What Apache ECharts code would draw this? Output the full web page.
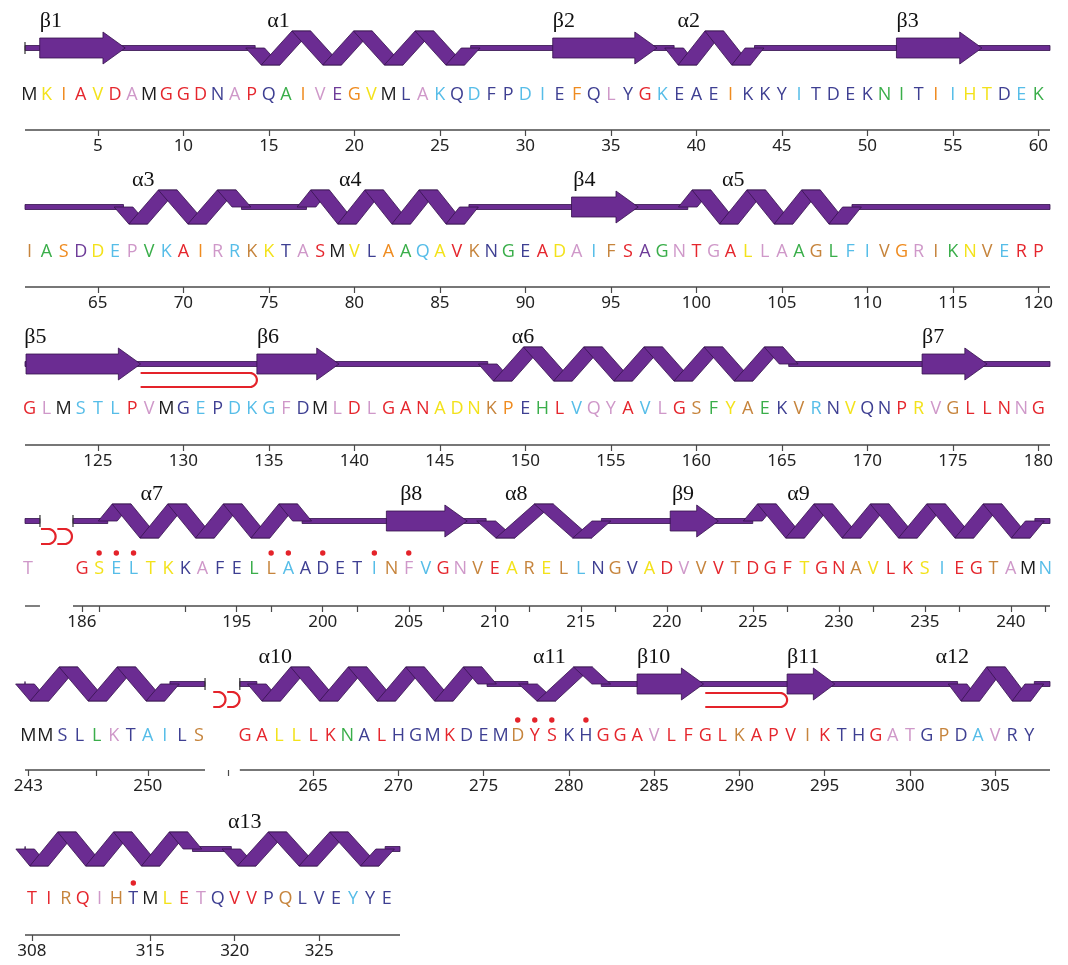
<!DOCTYPE html>
<html lang="en">
<head>
<meta charset="UTF-8">
<title>Secondary structure</title>
<script src="https://cdn.jsdelivr.net/npm/echarts@6/dist/echarts.min.js"></script>
<style>html,body{margin:0;background:#fff}#main{width:1068px;height:965px}</style>
</head>
<body>
<div id="main"></div>
<script>
// residues 1-329, '-' = not in the model (182-185, 254-260)
var sequence =
    'MKIAVDAMGGDNAPQAIVEGVMLAKQDFPDIEFQLYGKEAEIKKYITDEKNITIIHTDEK' +
    'IASDDEPVKAIRRKKTASMVLAAQAVKNGEADAIFSAGNTGALLAAGLFIVGRIKNVERP' +
    'GLMSTLPVMGEPDKGFDMLDLGANADNKPEHLVQYAVLGSFYAEKVRNVQNPRVGLLNNG' +
    'T----GSELTKKAFELLAADETINFVGNVEARELLNGVADVVVTDGFTGNAVLKSIEGTAMN' +
    'MMSLLKTAILS-------GALLLKNALHGMKDEMDYSKHGGAVLFGLKAPVIKTHGATGPDAVRY' +
    'TIRQIHTMLETQVVPQLVEYYE';
// one colour code per residue (see palette)
var residueColours =
    'kyoryrlkrr' + 'rnlrngolpo' + 'yknlcncnnc' + 'cnonlnrcnn' + 'nonnncnnnn' + 'ggnocyyncg' +
    'wgopyclgcr' + 'olcwynlrky' + 'nogcyrwngn' + 'rylcwrpglr' + 'lryllgwgcc' + 'wolwgywcrr' +
    'rlkcccrlkn' + 'cnccclnklr' + 'lrrryyywon' + 'grcllrclrw' + 'gywgnwcnyn' + 'nrylwrrrlr' +
    'l----' + 'ryccyynlnn' + 'gwcnnnncwl' + 'crlwrywywc' + 'nwnyrlwrwr' + 'rryrrwyrry' + 'crrwlkc' +
    'kknnglnccnw' + '-------' + 'rryyrrgnrn' + 'nnrnnnwrrn' + 'nrrrlrrrrw' + 'rrrwrnnrll' + 'nwnclnn' +
    'rrwrlwnkyr' + 'lnrrnwnnnc' + 'nn';

var rowFirst = [1, 61, 121, 181, 243, 308];
var rowLast = [60, 120, 180, 242, 307, 329];

var strandNames = ['β1', 'β2', 'β3', 'β4', 'β5', 'β6', 'β7', 'β8', 'β9', 'β10', 'β11'];
var strandStart = [1.6, 31.6, 51.7, 92.7, 120.8, 134.3, 173.2, 203.7, 220.2, 284.0, 292.8];
var strandEnd = [6.6, 37.7, 56.7, 96.6, 127.5, 139.1, 177.0, 208.4, 223.0, 287.9, 295.6];
var strandLabelAt = [1.6, 31.6, 51.7, 92.8, 120.7, 134.3, 173.2, 204.5, 220.3, 284.0, 292.8];

var helixNames = ['α1', 'α2', 'α3', 'α4', 'α5', 'α6', 'α7', 'α8', 'α9', '', 'α10', 'α11', 'α12', '', 'α13'];
var helixStart = [14.2, 38.7, 66.5, 77.2, 99.5, 147.8, 187.5, 209.5, 225.0, 242.8, 261.7, 277.6, 302.8, 307.6, 319.8];
var helixEnd = [26.8, 43.4, 73.4, 86.7, 109.1, 165.4, 198.8, 216.2, 241.4, 251.3, 275.2, 281.9, 307.3, 317.5, 328.9];
var helixPeaks = [7, 3, 4, 6, 6, 10, 7, 3, 10, 5, 8, 2, 3, 6, 5];
var helixFirstUp = [0, 0, 0, 1, 1, 0, 1, 0, 1, 0, 0, 0, 0, 0, 0];
var helixLabelAt = [14.9, 38.9, 67.0, 79.1, 101.5, 149.2, 189.4, 210.6, 227.0, 0, 261.8, 277.9, 301.5, 0, 319.6];

var hairpinFrom = [127.5, 288.0];
var hairpinTo = [134.3, 292.8];

var markedResidues = [187, 188, 189, 197, 198, 200, 203, 205, 277, 278, 279, 281, 314];

var tickLabels = [
    [5, 10, 15, 20, 25, 30, 35, 40, 45, 50, 55, 60],
    [65, 70, 75, 80, 85, 90, 95, 100, 105, 110, 115, 120],
    [125, 130, 135, 140, 145, 150, 155, 160, 165, 170, 175, 180],
    [186, 195, 200, 205, 210, 215, 220, 225, 230, 235, 240],
    [243, 250, 265, 270, 275, 280, 285, 290, 295, 300, 305],
    [308, 315, 320, 325]
];
var minorTicks = [[], [], [],
    [187, 192, 197, 202, 207, 212, 217, 222, 227, 232, 237, 242],
    [247, 260], []];

// ---- layout (pixels / axis units), not data ----
var palette = {
    k: '#1c1c1c', r: '#e5262d', o: '#ef8b1f', y: '#f3e21a', g: '#3aae4a',
    c: '#56bde8', n: '#3e3f92', p: '#6e3c98', l: '#cf98c9', w: '#c6843c'
};
var ribbonFill = '#6b2c92', ribbonEdge = '#35124d', red = '#e4232a';
var rows = [
    {centre: 48, letter: 95, ruler: 130, min: 0.74, span: 59.94, width: 1025},
    {centre: 207, letter: 252, ruler: 287, min: 60.74, span: 59.94, width: 1025},
    {centre: 364, letter: 409, ruler: 445, min: 120.74, span: 59.94, width: 1025},
    {centre: 521, letter: 569, ruler: 606, min: 182.69, span: 59.59, width: 1025,
        shiftUpTo: 181.5, shift: 1.86, pieces: [[182.69, 183.56], [185.48, 242.28]], breakStart: 183.62, breakW: 0.85},
    {centre: 684, letter: 736, ruler: 770, min: 248.1, span: 60.12, width: 1025,
        shiftUpTo: 253.5, shift: 5.3, pieces: [[248.1, 258.66], [260.7, 308.22]], breakStart: 259.14, breakW: 0.72},
    {centre: 849, letter: 899, ruler: 935, min: 307.59, span: 22.19, width: 375}
];

function rowOf(r) {
    for (var i = 0; i < rowLast.length; i++) if (r <= rowLast[i] + 0.5) return i;
    return rowLast.length - 1;
}
function disp(i, r) {
    var L = rows[i];
    return (L.shift && r <= L.shiftUpTo) ? r + L.shift : r;
}

function buildItems(i) {
    var L = rows[i], items = [];
    var pieces = L.pieces || [[L.min, L.min + L.span]];
    var cuts = [];
    helixStart.forEach(function (s, h) {
        if (rowOf((s + helixEnd[h]) / 2) !== i) return;
        var x0 = disp(i, s), x1 = disp(i, helixEnd[h]);
        cuts.push([x0, x1]);
        items.push({kind: 'helix', x0: x0, x1: x1, peaks: helixPeaks[h], up: !!helixFirstUp[h]});
        if (helixNames[h]) items.push({kind: 'label', x0: disp(i, helixLabelAt[h]), text: helixNames[h]});
    });
    cuts.sort(function (a, b) { return a[0] - b[0]; });
    pieces.forEach(function (p) {
        items.push({kind: 'ruler', x0: p[0], x1: p[1]});
        var from = p[0];
        cuts.forEach(function (c) {
            if (c[1] < p[0] || c[0] > p[1]) return;
            if (c[0] > from) items.unshift({kind: 'coil', x0: from, x1: c[0]});
            from = Math.max(from, c[1]);
        });
        if (from < p[1]) items.unshift({kind: 'coil', x0: from, x1: p[1]});
    });
    if (i === 0) items.push({kind: 'end', x0: pieces[0][0]});
    if (L.pieces) {
        items.push({kind: 'end', x0: pieces[0][1]});
        items.push({kind: 'end', x0: pieces[1][0]});
        items.push({kind: 'break', x0: L.breakStart, w: L.breakW});
        items.push({kind: 'break', x0: L.breakStart + L.breakW + 0.1, w: L.breakW});
    }
    strandStart.forEach(function (s, b) {
        if (rowOf((s + strandEnd[b]) / 2) !== i) return;
        items.push({kind: 'strand', x0: disp(i, s), x1: disp(i, strandEnd[b])});
        items.push({kind: 'label', x0: disp(i, strandLabelAt[b]), text: strandNames[b]});
    });
    hairpinFrom.forEach(function (s, k) {
        if (rowOf((s + hairpinTo[k]) / 2) !== i) return;
        items.push({kind: 'hairpin', x0: disp(i, s), x1: disp(i, hairpinTo[k])});
    });
    return items;
}

function uShape(api, xa, xb, yTop, yBot) {
    var a = api.coord([xa, yTop]), b = api.coord([xb, yBot]);
    var r = (b[1] - a[1]) / 2, cx = b[0] - r, cy = a[1] + r;
    var pts = [[a[0], a[1]]];
    for (var k = 0; k <= 14; k++) {
        var t = -Math.PI / 2 + Math.PI * k / 14;
        pts.push([cx + r * Math.cos(t), cy + r * Math.sin(t)]);
    }
    pts.push([a[0], b[1]]);
    return pts;
}

function structureRenderer(items, L) {
    var yRuler = -(L.ruler - L.centre);
    return function (params, api) {
        var it = items[params.dataIndex];
        var P = function (x, y) { return api.coord([x, y]); };
        var ribbon = {fill: ribbonFill, stroke: ribbonEdge, lineWidth: 0.8};
        if (it.kind === 'coil') {
            return {type: 'polygon', shape: {points: [P(it.x0, 2.5), P(it.x1, 2.5), P(it.x1, -2.5), P(it.x0, -2.5)]}, style: ribbon};
        }
        if (it.kind === 'ruler') {
            var a = P(it.x0, yRuler), b = P(it.x1, yRuler);
            return {type: 'line', shape: {x1: a[0], y1: a[1], x2: b[0], y2: b[1]}, style: {stroke: '#4a4a4a', lineWidth: 1.4}};
        }
        if (it.kind === 'end') {
            var e0 = P(it.x0, 6), e1 = P(it.x0, -6);
            return {type: 'line', shape: {x1: e0[0], y1: e0[1], x2: e1[0], y2: e1[1]}, style: {stroke: '#333', lineWidth: 1.2}};
        }
        if (it.kind === 'strand') {
            var hl = Math.min(1.3, (it.x1 - it.x0) * 0.45), bw = 10, hw = 16;
            return {type: 'polygon', shape: {points: [
                P(it.x0, bw), P(it.x1 - hl, bw), P(it.x1 - hl, hw), P(it.x1, 0),
                P(it.x1 - hl, -hw), P(it.x1 - hl, -bw), P(it.x0, -bw)]}, style: ribbon};
        }
        if (it.kind === 'helix') {
            var hp = (it.x1 - it.x0) / it.peaks, w = 0.55, h = 17;
            var pts = [[it.x0, 0]];
            for (var k = 0; k < it.peaks; k++) {
                var top = (k % 2 === 0) === it.up;
                pts.push([it.x0 + hp / 2 + k * hp, top ? h : -h]);
            }
            pts.push([it.x1, 0]);
            var kids = [];
            for (var j = 0; j < pts.length - 1; j++) {
                var p = pts[j], q = pts[j + 1];
                kids.push({type: 'polygon', shape: {points: [
                    P(p[0] - w, p[1]), P(p[0] + w, p[1]), P(q[0] + w, q[1]), P(q[0] - w, q[1])]}, style: ribbon});
            }
            return {type: 'group', children: kids};
        }
        if (it.kind === 'hairpin') {
            return {type: 'polyline', shape: {points: uShape(api, it.x0, it.x1, -9, -23)},
                style: {stroke: red, lineWidth: 2.2, fill: null}};
        }
        if (it.kind === 'break') {
            return {type: 'polyline', shape: {points: uShape(api, it.x0, it.x0 + it.w, -8, -23)},
                style: {stroke: red, lineWidth: 2.2, fill: null}};
        }
        if (it.kind === 'label') {
            var t = P(it.x0, 27);
            return {type: 'text', x: t[0], y: t[1], style: {text: it.text, fill: '#111',
                font: '22px "Liberation Serif", "DejaVu Serif", serif', align: 'left', verticalAlign: 'middle'}};
        }
        return null;
    };
}

function letterRenderer(list, L) {
    var yLetter = -(L.letter - L.centre);
    return function (params, api) {
        var d = list[params.dataIndex];
        var c = api.coord([d.x, yLetter]);
        var kids = [{type: 'text', x: c[0], y: c[1], style: {text: d.ch, fill: palette[d.col],
            font: '18px "Open Sans", "Noto Sans", sans-serif', align: 'center', verticalAlign: 'middle'}}];
        if (d.marked) kids.push({type: 'circle', shape: {cx: c[0], cy: c[1] - 16, r: 2.7}, style: {fill: red}});
        return {type: 'group', children: kids};
    };
}

var grids = [], xAxes = [], yAxes = [], series = [];
rows.forEach(function (L, i) {
    grids.push({left: 25, top: L.centre - 45, width: L.width, height: L.ruler - L.centre + 45});
    var labelVals = [], names = {};
    tickLabels[i].forEach(function (r) {
        var v = +disp(i, r).toFixed(3);
        labelVals.push(v); names[v.toFixed(3)] = String(r);
    });
    var tickVals = labelVals.concat(minorTicks[i].map(function (r) { return +disp(i, r).toFixed(3); }));
    // axis sits 6px under the ruler; its ticks point back up to the ruler
    xAxes.push({
        type: 'value', gridIndex: i, min: L.min, max: L.min + L.span, position: 'bottom', offset: 6,
        axisLine: {show: false, onZero: false}, splitLine: {show: false},
        axisTick: {show: true, inside: true, length: 6, customValues: tickVals, lineStyle: {color: '#4a4a4a', width: 1.2}},
        axisLabel: {customValues: labelVals, margin: 2, fontSize: 17, color: '#222', fontFamily: 'Noto Sans',
            formatter: function (v) { return names[(+v).toFixed(3)] || ''; }}
    });
    yAxes.push({type: 'value', gridIndex: i, min: -(L.ruler - L.centre), max: 45, show: false});

    var items = buildItems(i);
    series.push({
        type: 'custom', xAxisIndex: i, yAxisIndex: i, silent: true,
        data: items.map(function (it) { return [it.x0, 0]; }),
        renderItem: structureRenderer(items, L)
    });

    var letters = [];
    for (var r = rowFirst[i]; r <= rowLast[i]; r++) {
        var ch = sequence.charAt(r - 1);
        if (ch === '-') continue;
        letters.push({x: disp(i, r), ch: ch, col: residueColours.charAt(r - 1),
            marked: markedResidues.indexOf(r) >= 0});
    }
    series.push({
        type: 'custom', xAxisIndex: i, yAxisIndex: i, silent: true,
        data: letters.map(function (d) { return [d.x, 0]; }),
        renderItem: letterRenderer(letters, L)
    });
});

var chart = echarts.init(document.getElementById('main'));
chart.setOption({
    animation: false,
    grid: grids,
    xAxis: xAxes,
    yAxis: yAxes,
    series: series
});
</script>
</body>
</html>
